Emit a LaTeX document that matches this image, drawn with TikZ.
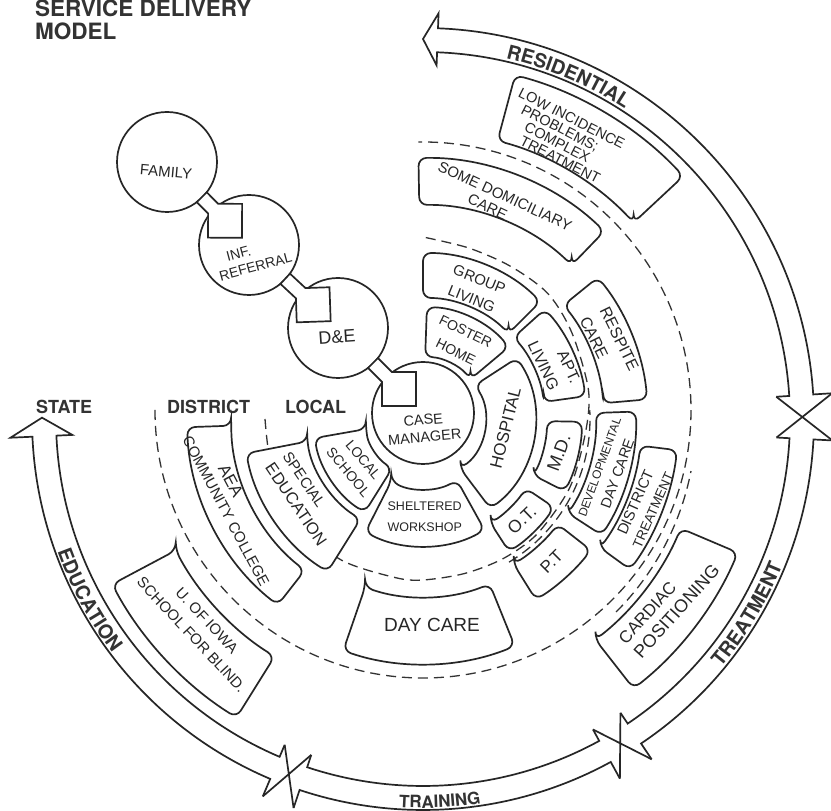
\documentclass[tikz,border=0pt]{standalone}
\usepackage{fontspec}
\setmainfont{Liberation Sans}
\newfontfamily\heros{TeX Gyre Heros}
\usetikzlibrary{calc,decorations.text}
\newcommand{\myfs}[1]{\fontsize{#1}{\fpeval{1.4*#1}}\selectfont}
\newcommand{\myfsb}[2]{\fontsize{#1}{#2}\selectfont}
\tikzset{
  ink/.style={draw=black!85, line width=1.7pt},
  sbox/.style={ink, fill=white, rounded corners=8pt},
  dashline/.style={draw=black!80, line width=1.3pt, dash pattern=on 10pt off 6pt},
  bigcirc/.style={ink, circle, minimum size=100pt, inner sep=0pt},
  hand/.style={text=black!85, inner sep=0pt},
  lab/.style={font=\heros\bfseries\myfs{18}, text=black!80, anchor=base west, inner sep=0pt},
}
\newcommand{\sectbox}[4]{\draw[sbox] (#3:#1) -- (#3:#2) arc[start angle=#3, end angle=#4, radius=#2] -- (#4:#1) arc[start angle=#4, end angle=#3, radius=#1] -- cycle;}
\newcommand{\blockarrow}[2]{%
  \draw[ink, fill=white] let \p1=($(#2)-(#1)$), \n1={atan2(\y1,\x1)}, \n2={veclen(\x1,\y1)} in
  [shift={(#1)}, rotate=\n1] (49.5,7) -- ({\n2-51},7) -- ({\n2-34},24) -- ({\n2-10},0) -- ({\n2-34},-24) -- ({\n2-51},-7) -- (49.5,-7) -- cycle;}
\begin{document}
\begin{tikzpicture}[x=1pt,y=1pt]
\useasboundingbox (0,0) rectangle (831,811);
\fill[white] (0,0) rectangle (831,811);

% titles and level labels
\node[lab, font=\heros\bfseries\myfs{22.5}] (title1) at (35,794) {SERVICE DELIVERY};
\node[lab, font=\heros\bfseries\myfs{22.5}] (title2) at (35,771) {MODEL};
\node[lab] (state) at (36,397) {STATE};
\node[lab] (district) at (167,397) {DISTRICT};
\node[lab] (local) at (285,397) {LOCAL};

\begin{scope}[shift={(423,392)}]
  % dashed level boundaries
  \draw[dashline] (0,9) ++(180:268) arc[start angle=180, end angle=451, radius=268];
  \draw[dashline] (-45:273) arc[start angle=-45, end angle=-11, radius=273];
  \draw[dashline] plot[smooth] coordinates {(180:158) (-160:160) (-140:163) (-120:163) (-100:161) (-90:161) (-75:160) (-60:161) (-45:162) (-25:162) (-5:163) (10:168) (30:172) (45:177) (60:176) (75:177) (90:182)};
  \draw[dashline] (-59:167) arc[start angle=-59, end angle=3, radius=167];

  % service boxes
  \sectbox{62}{112}{40}{88}      % foster home
  \sectbox{62}{112}{-53}{33}     % hospital
  \sectbox{70}{127}{-117}{-61}   % sheltered workshop
  \sectbox{58}{110}{-170}{-122}  % local school
  \sectbox{121}{166}{45}{90}     % group living
  \sectbox{122}{164}{8}{42}      % apt living
  \sectbox{181}{225}{5}{39}      % respite care
  \sectbox{124}{159}{-27}{-1}    % md
  \sectbox{124}{158}{-57}{-34}   % ot
  \sectbox{171}{213}{-58}{-38}   % pt
  \sectbox{173}{213}{-33}{2}     % developmental day care
  \sectbox{219}{256}{-36}{-7}    % district treatment
  \sectbox{280}{342}{-52}{-23}   % cardiac positioning
  \sectbox{178}{245}{-109}{-68}  % day care
  \sectbox{118}{180}{-169}{-122} % special education
  \sectbox{192}{236}{-178}{-128} % aea
  \sectbox{280}{352}{-152}{-122} % u of iowa
  \sectbox{214}{261}{46}{91}     % domiciliary
  \sectbox{288}{356}{43}{75}     % low incidence

  % box texts
  \node[hand, rotate=-26, align=center, font=\myfs{14}] (foster) at (64:86) {FOSTER\\[3pt]HOME};
  \node[hand, rotate=76, font=\myfs{17}] (hosp) at (-6:83) {HOSPITAL};
  \node[hand, align=center, font=\myfs{12.5}] (shelt) at (-89:97.5) {SHELTERED\\[3pt]WORKSHOP};
  \node[hand, rotate=-50, align=center, font=\myfs{14}] (lsch) at (-145:82) {LOCAL\\SCHOOL};
  \node[hand, rotate=-22, align=center, font=\myfs{15}] (grp) at (68:140) {GROUP\\LIVING};
  \node[hand, rotate=-65, align=center, font=\myfs{16}] (apt) at (24:143) {\hspace*{24pt}APT.\\LIVING};
  \node[hand, rotate=-64, align=left, font=\myfs{16}] (resp) at (22:201) {RESPITE\\CARE};
  \node[hand, rotate=70, font=\myfs{18}] (md) at (-14:140) {M.D.};
  \node[hand, rotate=44, font=\myfs{17.5}] (ot) at (-45.5:141) {O.T.};
  \node[hand, rotate=45, font=\myfs{17}] (pt) at (-48:192) {P.T};
  \node[hand, rotate=70, align=center, font=\myfs{14}] (dev) at (-15.5:193) {{\myfs{12}DEVELOPMENTAL}\\{\myfs{14.5}DAY CARE}};
  \node[hand, rotate=66, align=center, font=\myfs{13.5}] (dtr) at (-21.5:237.5) {{\myfs{15}DISTRICT}\\TREATMENT};
  \node[hand, rotate=48, align=left, font=\myfsb{17}{21}] (card) at (-37:308) {CARDIAC\\{\myfs{18}POSITIONING}};
  \node[hand, font=\myfs{19}] (dayc) at (-87.5:206) {DAY CARE};
  \node[hand, rotate=-56, align=left, font=\myfs{15}] (sped) at (-146:143) {SPECIAL\\{\myfs{16.5}EDUCATION}};
  \node[hand, rotate=-62, align=center, font=\myfsb{15}{18}] (aea) at (-155:208) {\makebox[84pt][l]{\myfs{17}AEA}\\COMMUNITY COLLEGE};
  \node[hand, rotate=-47, align=center, font=\myfs{15}] (uiowa) at (-137:306) {U. OF IOWA\\SCHOOL FOR BLIND.};
  \node[hand, rotate=-25, align=center, font=\myfsb{15}{17}] (dom) at (70:229) {SOME DOMICILIARY\\\makebox[64pt][l]{CARE}};

  % outer ring of arrows
  \draw[ink] (3.6:354) -- (3.6:367) arc[start angle=3.6, end angle=87.8, radius=367] -- (87.8:354) -- (90:380) -- (87.8:406) -- (87.8:391) arc[start angle=87.8, end angle=3.6, radius=391] -- (3.6:410);
  \draw[ink] (3.6:354) -- (-3:410) (3.6:410) -- (-3:354);
  \draw[ink] (-3:354) -- (-3:367) arc[start angle=-3, end angle=-56.1, radius=367] -- (-56.1:354);
  \draw[ink] (-3:410) -- (-3:391) arc[start angle=-3, end angle=-56.1, radius=391] -- (-56.1:410);
  \draw[ink] (-56.1:354) -- (-61.3:410) (-56.1:410) -- (-61.3:354);
  \draw[ink] (-61.3:354) -- (-61.3:367) arc[start angle=-61.3, end angle=-108.4, radius=367] -- (-108.4:354);
  \draw[ink] (-61.3:410) -- (-61.3:391) arc[start angle=-61.3, end angle=-108.4, radius=391] -- (-108.4:410);
  \draw[ink] (-108.4:354) -- (-113:410) (-108.4:410) -- (-113:354);
  \draw[ink] (-113:354) -- (-113:367) arc[start angle=-113, end angle=-177.4, radius=367] -- (-177.4:351) -- (-180.2:381) -- (-177.4:413) -- (-177.4:391) arc[start angle=-177.4, end angle=-113, radius=391] -- (-113:410);

  \path[decorate, decoration={text along path, text={|\heros\bfseries\myfs{19.5}|RESIDENTIAL}, text align=center, text color=black!80}] (81:370) arc[start angle=81, end angle=53, radius=370];
  \path[decorate, decoration={text along path, text={|\heros\bfseries\myfs{19.5}|TREATMENT}, text align=center, text color=black!80}] (-46:388) arc[start angle=-46, end angle=-16, radius=388];
  \path[decorate, decoration={text along path, text={|\heros\bfseries\myfs{17}|TRAINING}, text align=center, text color=black!80}] (-101:389) arc[start angle=-101, end angle=-74, radius=389];
  \path[decorate, decoration={text along path, text={|\heros\bfseries\myfs{19.5}|EDUCATION}, text align=center, text color=black!80}] (-167:389) arc[start angle=-167, end angle=-136, radius=389];
\end{scope}

\node[hand, rotate=-27, align=left, anchor=north west, font=\myfsb{14.5}{14}] (lowinc) at (522,724) {LOW INCIDENCE\\\hspace*{10pt}PROBLEMS;\\\hspace*{21pt}COMPLEX\\\hspace*{23pt}TREATMENT};

% referral chain
\node[bigcirc] (fam) at (167,649) {};
\node[bigcirc] (inf) at (249,566) {};
\node[bigcirc] (de) at (338,483) {};
\node[bigcirc, minimum size=102pt] (cm) at (423,398) {};
\blockarrow{fam}{inf}
\blockarrow{inf}{de}
\blockarrow{de}{cm}

\node[hand, rotate=-5, font=\myfs{15}] (famt) at (166,639) {FAMILY};
\node[hand, rotate=15, align=center, font=\myfsb{14}{17}] (inft) at (253.5,552.5) {\makebox[51pt][l]{INF.}\\REFERRAL};
\node[hand, rotate=4, font=\myfs{18}] (det) at (337,474) {D\&E};
\node[hand, rotate=5, align=center, font=\myfsb{14.5}{17}] (cmt) at (424,382.5) {CASE\\MANAGER};
\end{tikzpicture}
\end{document}
